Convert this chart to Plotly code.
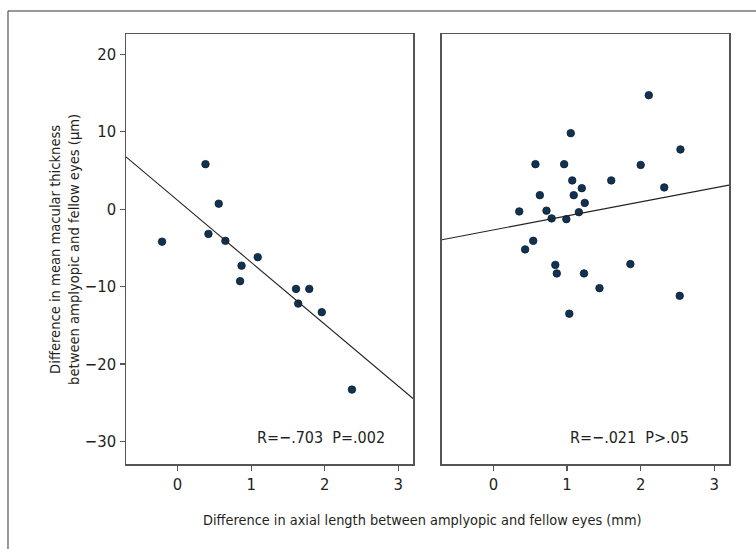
import plotly.graph_objects as go

# ---- data ----
left_x = [-0.21, 0.38, 0.56, 0.42, 0.65, 1.09, 0.87, 0.85, 1.61, 1.79, 1.64, 1.96, 2.37]
left_y = [-4.2, 5.8, 0.7, -3.2, -4.1, -6.2, -7.3, -9.3, -10.3, -10.3, -12.2, -13.3, -23.3]

right_x = [2.11, 1.05, 2.54, 0.57, 0.96, 2.00, 1.07, 1.60, 1.20, 2.32, 0.63, 1.09, 1.24,
           0.35, 0.72, 1.16, 0.79, 0.99, 0.54, 0.43, 0.84, 0.86, 1.23, 1.86, 1.44, 2.53, 1.03]
right_y = [14.7, 9.8, 7.7, 5.8, 5.8, 5.7, 3.7, 3.7, 2.7, 2.8, 1.8, 1.8, 0.8,
           -0.3, -0.2, -0.4, -1.2, -1.3, -4.1, -5.2, -7.2, -8.3, -8.3, -7.1, -10.2, -11.2, -13.5]

# regression lines: intercept, slope
left_fit = (1.14, -8.0)
right_fit = (-2.69, 1.81)
fit_span = [-0.70, 3.20]

x_ticks = [0, 1, 2, 3]
y_ticks = [-30, -20, -10, 0, 10, 20]

left_label = "R=\u2212.703\u00a0\u00a0P=.002"
right_label = "R=\u2212.021\u00a0\u00a0P>.05"
x_title = "Difference in axial length between amplyopic and fellow eyes (mm)"
y_title = "Difference in mean macular thickness<br>between amplyopic and fellow eyes (\u03bcm)"

FONT = "DejaVu Sans Condensed, Liberation Sans Narrow, sans-serif"
TXT = "#231f20"
MARK = dict(size=7.5, color="#0f3357", line=dict(color="#111a24", width=0.8))

fig = go.Figure()
fig.add_trace(go.Scatter(x=left_x, y=left_y, mode="markers", marker=MARK,
                         xaxis="x", yaxis="y", showlegend=False))
fig.add_trace(go.Scatter(x=fit_span, y=[left_fit[0] + left_fit[1] * v for v in fit_span],
                         mode="lines", line=dict(color="#222", width=1.1),
                         xaxis="x", yaxis="y", showlegend=False))
fig.add_trace(go.Scatter(x=right_x, y=right_y, mode="markers", marker=MARK,
                         xaxis="x2", yaxis="y2", showlegend=False))
fig.add_trace(go.Scatter(x=fit_span, y=[right_fit[0] + right_fit[1] * v for v in fit_span],
                         mode="lines", line=dict(color="#222", width=1.1),
                         xaxis="x2", yaxis="y2", showlegend=False))

axis_common = dict(showline=True, mirror=True, linecolor="#555", linewidth=1.5,
                   ticks="outside", ticklen=5, tickcolor="#555", tickwidth=1.2,
                   showgrid=False, zeroline=False,
                   tickfont=dict(family=FONT, size=16.5, color=TXT))
xr = [-0.70, 3.20]
yr = [-32.9, 22.6]

fig.update_layout(
    width=756, height=549,
    margin=dict(l=126, r=27, t=34, b=85),
    paper_bgcolor="white", plot_bgcolor="white",
    font=dict(family=FONT, size=16, color=TXT),
    hovermode=False,
    xaxis=dict(domain=[0, 0.476], range=xr, tickvals=x_ticks, **axis_common),
    yaxis=dict(domain=[0, 1], range=yr, tickvals=y_ticks,
               ticktext=[str(v).replace("-", "\u2212") for v in y_ticks], **axis_common),
    xaxis2=dict(domain=[0.524, 1], range=xr, tickvals=x_ticks, anchor="y2", **axis_common),
    yaxis2=dict(domain=[0, 1], range=yr, anchor="x2", showticklabels=False,
                **{k: v for k, v in axis_common.items() if k not in ("ticks",)}, ticks=""),
)

fig.add_annotation(x=2.85, y=-29.5, xref="x", yref="y", text=left_label, showarrow=False,
                   xanchor="right", yanchor="middle", font=dict(family=FONT, size=16, color=TXT))
fig.add_annotation(x=2.68, y=-29.5, xref="x2", yref="y2", text=right_label, showarrow=False,
                   xanchor="right", yanchor="middle", font=dict(family=FONT, size=16, color=TXT))
fig.add_annotation(x=0.4925, y=-0.130, xref="paper", yref="paper", text=x_title, showarrow=False,
                   xanchor="center", yanchor="middle", font=dict(family=FONT, size=14.4, color=TXT))
fig.add_annotation(x=-0.103, y=0.5, xref="paper", yref="paper", text=y_title, showarrow=False,
                   textangle=-90, xanchor="center", yanchor="middle",
                   font=dict(family=FONT, size=14.6, color=TXT))

# outer frame (top and left edges visible)
fig.add_shape(type="line", xref="paper", yref="paper", x0=-0.1957, x1=1.05, y0=1.0535, y1=1.0535,
              line=dict(color="#333", width=1))
fig.add_shape(type="line", xref="paper", yref="paper", x0=-0.1957, x1=-0.1957, y0=1.0535, y1=-0.21,
              line=dict(color="#333", width=1))

fig.write_html("out.html", config={"displayModeBar": False, "staticPlot": True},
               post_script="document.body.style.margin='0';document.body.style.overflow='hidden';")
